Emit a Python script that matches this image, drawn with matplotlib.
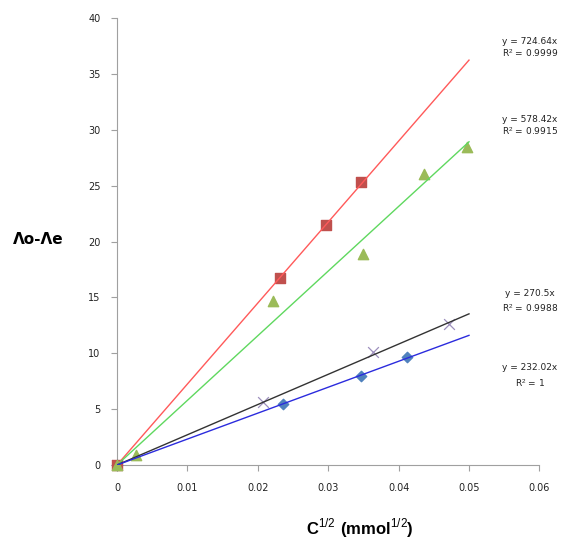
import matplotlib.pyplot as plt
import numpy as np

plt.rcParams['mathtext.fontset'] = 'custom'
plt.rcParams['mathtext.bf'] = 'Liberation Sans:bold'
plt.rcParams['mathtext.rm'] = 'Liberation Sans'

# series data (x = C^1/2, y = Λo-Λe)
red_x = [0, 0.0232, 0.0297, 0.0346]
red_y = [0, 16.7, 21.5, 25.3]
green_x = [0, 0.0027, 0.0222, 0.0349, 0.0436, 0.0497]
green_y = [0, 0.9, 14.7, 18.9, 26.0, 28.5]
black_x = [0, 0.0208, 0.0363, 0.0471]
black_y = [0, 5.6, 10.1, 12.6]
blue_x = [0, 0.0236, 0.0346, 0.0412]
blue_y = [0, 5.5, 8.0, 9.65]

slopes = [724.64, 578.42, 270.5, 232.02]
r2 = ["0.9999", "0.9915", "0.9988", "1"]
fit_end = 0.05

W, H = 563, 542
fig = plt.figure(figsize=(W / 100, H / 100), dpi=100)
ax = fig.add_axes([117 / W, 1 - 465 / H, (539.4 - 117) / W, (465 - 18) / H])

line_cols = ["#ff5a5a", "#5fd85f", "#333333", "#2b2bdd"]
xs = np.array([0, fit_end])
for s, c in zip(slopes, line_cols):
    ax.plot(xs, s * xs, color=c, lw=1, zorder=4)

ax.scatter(blue_x, blue_y, marker="D", s=28, color="#4f81bd", zorder=3, clip_on=False)
ax.scatter(black_x, black_y, marker="x", s=60, color="#9d8fbd", linewidths=0.9, zorder=3, clip_on=False)
ax.scatter(red_x, red_y, marker="s", s=55, color="#c0504d", zorder=3, clip_on=False)
ax.scatter(green_x, green_y, marker="^", s=55, color="#9bbb59", zorder=3, clip_on=False)

ax.set_xlim(0, 0.06)
ax.set_ylim(0, 40)
ax.set_xticks(np.arange(0, 0.061, 0.01))
ax.set_xticklabels(["0", "0.01", "0.02", "0.03", "0.04", "0.05", "0.06"])
ax.set_yticks(range(0, 41, 5))
for side in ["top", "right"]:
    ax.spines[side].set_visible(False)
for side in ["left", "bottom"]:
    ax.spines[side].set_color("#a0a0a0")
ax.tick_params(colors="#a0a0a0", labelcolor="#222222", labelsize=7, length=4)
ax.tick_params(axis="x", pad=9)
ax.tick_params(axis="y", pad=8)

fig.text(360 / W, 1 - 528 / H, r"$\mathbf{C}^{1/2}\ \mathbf{(mmol}^{1/2}\mathbf{)}$", fontsize=12,
         ha="center", va="center")
fig.text(38 / W, 1 - 240 / H, "Λo-Λe", fontsize=11, fontweight="bold",
         ha="center", va="center")

# trendline labels
label_y = [(41, 53), (119, 131), (293, 308), (368, 383)]
for s, r, (y1, y2) in zip(slopes, r2, label_y):
    fig.text(530 / W, 1 - y1 / H, f"y = {s:g}x", fontsize=6.5, ha="center", va="center", color="#222222")
    fig.text(530 / W, 1 - y2 / H, f"R$^2$ = {r}", fontsize=6.5, ha="center", va="center", color="#222222")

fig.savefig("out.png", dpi=100)
